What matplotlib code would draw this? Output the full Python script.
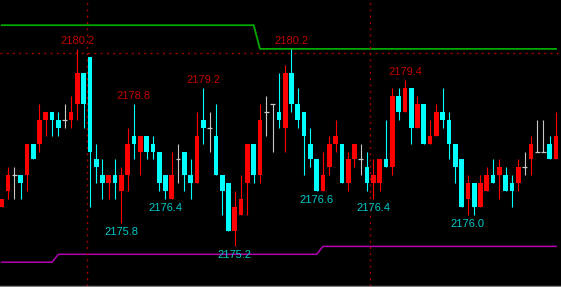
import numpy as np
import matplotlib
matplotlib.use('Agg')
import matplotlib.pyplot as plt

# OHLC, one entry per bar
opens = [2176.2, 2176.6, 2177.0, 2177.0, 2177.0, 2177.8, 2177.8, 2178.4, 2178.6, 2178.4,
         2178.4, 2178.4, 2178.8, 2179.6, 2180.0, 2177.4, 2177.0, 2176.8, 2177.0, 2176.6,
         2177.0, 2178.0, 2177.6, 2178.0, 2177.8, 2177.6, 2177.0, 2176.4, 2177.4, 2177.6,
         2177.0, 2176.8, 2178.4, 2178.2, 2178.0, 2177.0, 2176.8, 2175.6, 2176.0, 2176.8,
         2177.8, 2177.0, 2178.6, 2178.8, 2178.6, 2178.2, 2179.6, 2178.8, 2178.6, 2177.8,
         2177.4, 2176.6, 2177.2, 2177.8, 2177.8, 2176.8, 2177.4, 2177.4, 2177.2, 2176.8,
         2176.8, 2177.4, 2177.2, 2179.0, 2178.6, 2179.2, 2178.2, 2178.8, 2177.8, 2178.0,
         2178.6, 2178.4, 2177.8, 2177.4, 2176.4, 2176.8, 2176.2, 2176.6, 2177.0, 2177.0,
         2177.0, 2176.8, 2176.8, 2177.2, 2177.4, 2177.6, 2177.6, 2177.8, 2177.4]
highs = [2176.4, 2177.2, 2177.2, 2177.0, 2177.8, 2177.8, 2178.8, 2178.6, 2178.6, 2178.6,
         2178.8, 2179.0, 2180.2, 2179.6, 2180.0, 2177.8, 2177.4, 2177.0, 2177.4, 2177.2,
         2178.2, 2178.8, 2178.0, 2178.0, 2178.0, 2177.6, 2177.0, 2177.6, 2177.8, 2177.6,
         2177.4, 2178.6, 2179.2, 2178.6, 2178.8, 2177.0, 2176.8, 2176.6, 2177.0, 2177.8,
         2177.8, 2178.8, 2179.0, 2178.8, 2179.6, 2179.8, 2180.2, 2179.2, 2178.6, 2178.2,
         2177.4, 2177.6, 2178.0, 2178.4, 2177.8, 2177.6, 2177.8, 2177.8, 2177.6, 2177.4,
         2177.4, 2178.4, 2179.2, 2179.2, 2179.4, 2179.2, 2179.0, 2178.8, 2178.4, 2178.8,
         2179.2, 2178.6, 2177.8, 2177.4, 2177.0, 2176.8, 2177.0, 2177.2, 2177.4, 2177.4,
         2177.2, 2177.0, 2177.4, 2177.6, 2178.0, 2178.4, 2178.4, 2178.0, 2178.6]
lows = [2176.2, 2176.4, 2176.4, 2176.4, 2176.6, 2177.4, 2177.6, 2178.0, 2178.0, 2178.0,
        2178.2, 2178.2, 2178.4, 2178.2, 2176.2, 2176.8, 2176.4, 2176.4, 2176.4, 2175.8,
        2176.6, 2177.4, 2177.0, 2177.4, 2177.4, 2176.6, 2176.4, 2176.4, 2176.8, 2176.6,
        2176.4, 2176.8, 2177.8, 2177.6, 2177.0, 2176.0, 2175.6, 2175.2, 2176.0, 2176.0,
        2176.8, 2176.8, 2178.0, 2177.6, 2178.2, 2177.6, 2178.6, 2178.2, 2177.0, 2177.2,
        2176.6, 2176.6, 2177.0, 2177.6, 2176.8, 2176.6, 2177.2, 2177.0, 2176.6, 2176.4,
        2176.6, 2177.2, 2177.0, 2178.4, 2178.6, 2177.8, 2178.2, 2177.8, 2177.8, 2178.0,
        2178.2, 2177.4, 2176.8, 2176.2, 2176.0, 2176.0, 2176.2, 2176.6, 2176.8, 2176.4,
        2176.6, 2176.2, 2176.6, 2177.0, 2177.0, 2177.6, 2177.6, 2177.4, 2177.4]
closes = [2176.4, 2177.0, 2177.0, 2176.8, 2177.8, 2177.4, 2178.4, 2178.6, 2178.4, 2178.2,
          2178.4, 2178.6, 2179.6, 2178.8, 2177.6, 2177.2, 2176.8, 2177.0, 2176.8, 2177.0,
          2177.8, 2177.8, 2178.0, 2177.6, 2177.6, 2176.8, 2176.6, 2177.0, 2177.4, 2177.0,
          2176.8, 2178.0, 2178.2, 2178.2, 2177.0, 2176.6, 2175.6, 2176.2, 2176.4, 2177.8,
          2177.0, 2178.4, 2178.6, 2178.8, 2178.4, 2179.6, 2178.8, 2178.4, 2178.0, 2177.4,
          2176.6, 2177.0, 2177.8, 2178.0, 2176.8, 2177.4, 2177.8, 2177.4, 2176.8, 2177.0,
          2177.4, 2177.2, 2179.0, 2178.6, 2179.2, 2178.2, 2178.8, 2177.8, 2178.0, 2178.6,
          2178.4, 2177.8, 2177.2, 2176.2, 2176.8, 2176.2, 2176.8, 2177.0, 2176.8, 2177.2,
          2176.6, 2176.6, 2177.2, 2177.2, 2177.8, 2177.6, 2177.6, 2177.4, 2178.0]

# upper / lower channel lines (step values per bar)
upper_band = [2180.8] * 41 + [2180.2] * 48
lower_band = [2174.8] * 9 + [2175.0] * 42 + [2175.2] * 38

# marked extremes (bar number, 1-based)
high_marks = [13, 22, 33, 47, 65]
low_marks = [20, 27, 38, 51, 60, 75]

session_breaks = [13.5, 58.5]   # between bars, 0-based
ref_level = 2180.1

o = np.array(opens)
h = np.array(highs)
l = np.array(lows)
c = np.array(closes)
x = np.arange(len(o))

RED = '#ff0000'
CYAN = '#00ffff'
DOJI = '#c8c8c8'

fig = plt.figure(figsize=(5.61, 2.87), dpi=100, facecolor='black')
ax = fig.add_axes([0, 1.5 / 287, 1, 285.5 / 287])
ax.set_facecolor('black')

up = c > o
down = c < o
flat = c == o

# wicks
wick_col = np.where(up, RED, np.where(down, CYAN, DOJI))
ax.vlines(x, l, h, colors=wick_col, linewidth=0.8, zorder=2)

# bodies
w = 0.74
ax.bar(x[up], (c - o)[up], bottom=o[up], width=w, color=RED, linewidth=0, zorder=3)
ax.bar(x[down], (o - c)[down], bottom=c[down], width=w, color=CYAN, linewidth=0, zorder=3)
ax.hlines(o[flat], x[flat] - w / 2, x[flat] + w / 2, colors=DOJI, linewidth=0.9, zorder=3)

# channel lines
ax.plot(x, upper_band, color='#00a800', linewidth=1.3, zorder=1)
ax.plot(x, lower_band, color='#b000b0', linewidth=1.1, zorder=1)

# dotted reference lines
ax.axhline(ref_level, color='#a00000', linewidth=1.0, linestyle=(0, (1.5, 3)), zorder=1)
for b in session_breaks:
    ax.axvline(b, color='#a00000', linewidth=1.0, linestyle=(0, (1.5, 3)), zorder=1)

# extreme labels
for k in high_marks:
    ax.annotate(f'{h[k - 1]:.1f}', (x[k - 1], h[k - 1]), xytext=(0, 8),
                textcoords='offset pixels', ha='center', va='center',
                color='#c00000', fontsize=8, family='Liberation Sans', zorder=4)
for k in low_marks:
    ax.annotate(f'{l[k - 1]:.1f}', (x[k - 1], l[k - 1]), xytext=(0, -9),
                textcoords='offset pixels', ha='center', va='center',
                color='#00c8c8', fontsize=8, family='Liberation Sans', zorder=4)

ax.set_xlim(-0.27, 88.78)
ax.set_ylim(2174.21, 2181.438)
ax.set_xticks([])
ax.set_yticks([])
for s in ['top', 'left', 'right']:
    ax.spines[s].set_visible(False)
ax.spines['bottom'].set_color('#808080')
ax.spines['bottom'].set_linewidth(1)

fig.savefig('out.png', dpi=100, facecolor='black')
